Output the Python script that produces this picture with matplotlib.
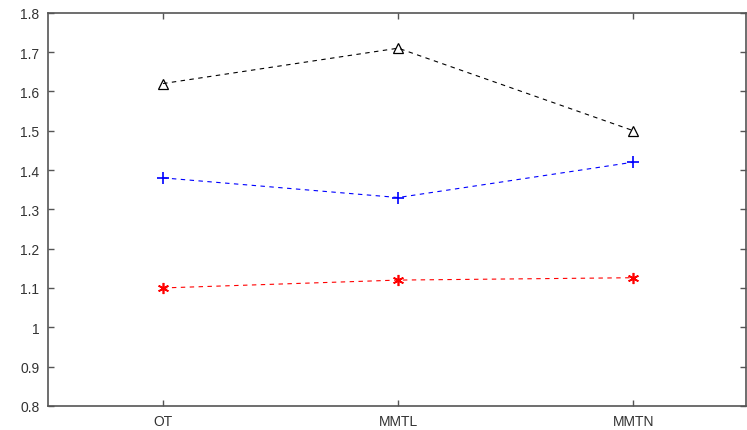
import matplotlib
matplotlib.use('Agg')
import matplotlib.pyplot as plt

categories = ['OT', 'MMTL', 'MMTN']
black_vals = [1.62, 1.71, 1.50]
blue_vals = [1.38, 1.33, 1.42]
red_vals = [1.10, 1.12, 1.126]
yticks = [0.8, 0.9, 1.0, 1.1, 1.2, 1.3, 1.4, 1.5, 1.6, 1.7, 1.8]
ylabels = ['0.8', '0.9', '1', '1.1', '1.2', '1.3', '1.4', '1.5', '1.6', '1.7', '1.8']

plt.rcParams['font.family'] = ['Liberation Sans', 'DejaVu Sans']

fig = plt.figure(figsize=(7.47, 4.31), dpi=100)
ax = fig.add_axes([0.064, 0.056, 0.935, 0.912])

x = [1, 2, 3]
ax.plot(x, black_vals, color='black', linestyle=(0, (4, 4)), linewidth=0.8,
        marker='^', markersize=7, markerfacecolor='none', markeredgewidth=0.9)
ax.plot(x, blue_vals, color='blue', linestyle=(0, (4, 4)), linewidth=0.8,
        marker='+', markersize=9, markeredgewidth=1.2)
ax.plot(x, red_vals, color='red', linestyle=(0, (4, 4)), linewidth=0.8,
        marker=(6, 2, 0), markersize=8, markeredgewidth=1.2)

ax.set_xlim(0.51, 3.48)
ax.set_ylim(0.8, 1.8)
ax.set_xticks(x)
ax.set_xticklabels(categories)
ax.set_yticks(yticks)
ax.set_yticklabels(ylabels)

for s in ax.spines.values():
    s.set_color('#555555')
    s.set_linewidth(1.2)
ax.tick_params(direction='in', top=True, right=True, length=4, width=1,
               color='#555555', labelcolor='#333333', labelsize=10, pad=6)

fig.savefig('out.png', dpi=100)
